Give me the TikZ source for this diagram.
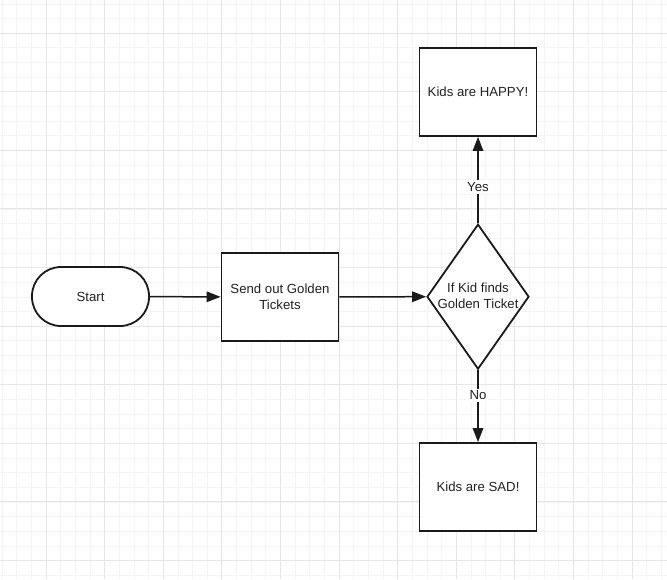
\documentclass[tikz,border=0pt]{standalone}
\usepackage{fontspec}
\setmainfont{Liberation Sans}
\usetikzlibrary{shapes.geometric,arrows.meta}
\definecolor{minorgrid}{HTML}{F4F4F4}
\definecolor{majorgrid}{HTML}{E6E6E6}
\definecolor{ink}{HTML}{1A1A1A}
\definecolor{txt}{HTML}{222222}
\tikzset{
  base/.style={draw=ink, line width=1.8pt, text=txt, font=\fontsize{13.2}{16}\selectfont, align=center, fill=white},
  procbox/.style={base, rectangle, minimum width=117pt, minimum height=88pt, inner sep=0pt},
  termbox/.style={base, rectangle, rounded corners=29pt, minimum width=117pt, minimum height=59pt},
  decbox/.style={base, diamond, minimum width=102pt, minimum height=145pt, inner sep=0pt},
  flow/.style={draw=ink, line width=1.5pt, -{Triangle[length=14pt,width=10.5pt]}},
  lbl/.style={fill=white, text=txt, font=\fontsize{13.2}{16}\selectfont, inner sep=2pt},
  mingrid/.style={draw=minorgrid, line width=0.8pt},
  majgrid/.style={draw=majorgrid, line width=1pt}
}
\begin{document}
\begin{tikzpicture}[x=1pt,y=-1pt]
\useasboundingbox (0,0) rectangle (667,579);
\fill[white] (0,0) rectangle (667,579);
% grid
\foreach \i in {0,...,46} {\draw[mingrid] ({2.1+14.65*\i},0) -- ({2.1+14.65*\i},579);}
\foreach \i in {0,...,40} {\draw[mingrid] (0,{3.9+14.65*\i}) -- (667,{3.9+14.65*\i});}
\foreach \i in {0,...,11} {\draw[majgrid] ({46+58.6*\i},0) -- ({46+58.6*\i},579);}
\foreach \i in {0,...,9} {\draw[majgrid] (0,{33+58.6*\i}) -- (667,{33+58.6*\i});}
% nodes
\node[termbox] (start) at (90.5,296.5) {Start};
\node[procbox] (send) at (280,297) {Send out Golden\\Tickets};
\node[decbox] (dec) at (478,296.7) {};
\node[align=center, text=txt, font=\fontsize{13.2}{16}\selectfont] (dectext) at (478,296) {If Kid finds\\Golden Ticket};
\node[procbox] (happy) at (478,92) {Kids are HAPPY!};
\node[procbox] (sad) at (478,487) {Kids are SAD!};
% connectors
\draw[flow] (start) -- (send);
\draw[flow] (send) -- (dec.west);
\draw[flow] (dec.north) -- node[lbl, pos=0.42] {Yes} (happy.south);
\draw[flow] (dec.south) -- node[lbl, pos=0.35] {No} (sad.north);
\end{tikzpicture}
\end{document}
